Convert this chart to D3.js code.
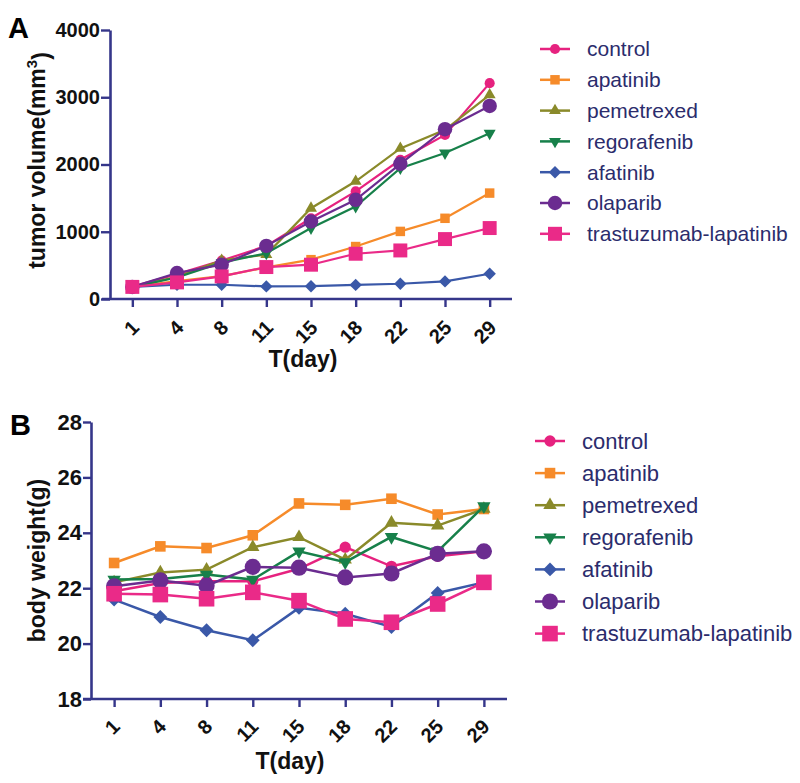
<!DOCTYPE html>
<html><head><meta charset="utf-8">
<script src="https://cdn.jsdelivr.net/npm/d3@7"></script>
<style>
html,body{margin:0;padding:0;background:#fff;}
svg{display:block;font-family:"Liberation Sans",Arial,Helvetica,sans-serif;}
</style></head>
<body>
<svg id="chart" width="800" height="783"></svg>
<script>
const days = ["1","4","8","11","15","18","22","25","29"];
const seriesNames = ["control","apatinib","pemetrexed","regorafenib","afatinib","olaparib","trastuzumab-lapatinib"];
const seriesColors = ["#e6227f","#f68b2a","#8a8a2a","#17804a","#3a58a8","#6b2c90","#ea2a88"];
const seriesSymbols = ["circle","square","triangle","triangleDown","diamond","bigCircle","bigSquare"];

const volControl     = [185, 370, 570, 790, 1200, 1600, 2070, 2440, 3210];
const volApatinib    = [180, 265, 340, 470, 585, 780, 1005, 1200, 1575];
const volPemetrexed  = [180, 330, 575, 660, 1350, 1750, 2240, 2515, 3035];
const volRegorafenib = [180, 320, 540, 680, 1055, 1375, 1945, 2170, 2465];
const volAfatinib    = [180, 212, 212, 187, 190, 210, 227, 262, 376];
const volOlaparib    = [180, 386, 510, 790, 1153, 1475, 2010, 2525, 2870];
const volTrastuzumab = [180, 247, 336, 475, 510, 673, 722, 891, 1055];

const wControl     = [21.89, 22.19, 22.25, 22.25, 22.70, 23.48, 22.79, 23.15, 23.33];
const wApatinib    = [22.91, 23.51, 23.45, 23.91, 25.06, 25.01, 25.23, 24.66, 24.86];
const wPemetrexed  = [22.21, 22.57, 22.67, 23.48, 23.84, 23.03, 24.36, 24.26, 24.86];
const wRegorafenib = [22.31, 22.33, 22.49, 22.31, 23.33, 22.94, 23.85, 23.33, 24.96];
const wAfatinib    = [21.59, 20.96, 20.48, 20.12, 21.29, 21.08, 20.60, 21.83, 22.21];
const wOlaparib    = [22.07, 22.28, 22.09, 22.77, 22.74, 22.39, 22.53, 23.24, 23.33];
const wTrastuzumab = [21.80, 21.77, 21.62, 21.85, 21.55, 20.89, 20.77, 21.43, 22.21];

const volTicks = [0, 1000, 2000, 3000, 4000];
const wTicks = [18, 20, 22, 24, 26, 28];

const volSeries = [volControl, volApatinib, volPemetrexed, volRegorafenib, volAfatinib, volOlaparib, volTrastuzumab];
const wSeries = [wControl, wApatinib, wPemetrexed, wRegorafenib, wAfatinib, wOlaparib, wTrastuzumab];

const AXIS = "#35368a";
const LEG_TEXT = "#2b2c6c";
const svg = d3.select("#chart");

function symbolPath(type, s) {
  switch (type) {
    case "circle": return d3.symbol(d3.symbolCircle, 80 * s)();
    case "bigCircle": return d3.symbol(d3.symbolCircle, 165 * s)();
    case "square": return d3.symbol(d3.symbolSquare, 90 * s)();
    case "bigSquare": return d3.symbol(d3.symbolSquare, 195 * s)();
    case "triangle": return d3.symbol(d3.symbolTriangle, 62 * s)();
    case "triangleDown": return d3.symbol(d3.symbolTriangle, 62 * s)();
    case "diamond": {
      const r = 6.2 * Math.sqrt(s);
      return `M0,${-r}L${r},0L0,${r}L${-r},0Z`;
    }
  }
}
function symbolTransform(type, x, y) {
  return type === "triangleDown" ? `translate(${x},${y}) rotate(180)` : `translate(${x},${y})`;
}

function panel(opt) {
  const g = svg.append("g");
  const x = d3.scalePoint().domain(days).range([opt.x0, opt.x1]).padding(0.5);
  const y = d3.scaleLinear().domain(opt.domain).range([opt.y1, opt.y0]);

  const xAxis = d3.axisBottom(x).tickSizeInner(8).tickSizeOuter(0).tickFormat("");
  const xg = g.append("g").attr("transform", `translate(0,${opt.y1})`).call(xAxis);
  const yAxis = d3.axisLeft(y).tickValues(opt.ticks).tickFormat(d3.format("d"))
    .tickSizeInner(opt.yTick).tickSizeOuter(0).tickPadding(1);
  const yg = g.append("g").attr("transform", `translate(${opt.x0},0)`).call(yAxis);
  [xg, yg].forEach(a => {
    a.selectAll("path.domain").attr("stroke", AXIS).attr("stroke-width", 2.6);
    a.selectAll(".tick line").attr("stroke", AXIS).attr("stroke-width", 2.4);
  });
  xg.select("path.domain").attr("d", `M${opt.x0 - 8},0H${opt.x1}`);
  yg.selectAll(".tick text").attr("font-size", opt.yFont).attr("font-weight", "bold").attr("fill", "#111")
    .attr("font-family", "'Liberation Sans',Arial,sans-serif");

  g.append("g").selectAll("text").data(days).join("text")
    .attr("transform", d => `translate(${x(d) + opt.xlDx},${opt.y1 + opt.xlDy}) rotate(-45)`)
    .attr("text-anchor", "end").attr("dy", "0.35em")
    .attr("font-size", 20).attr("font-weight", "bold").attr("fill", "#111")
    .text(d => d);

  const line = d3.line().x((d, i) => x(days[i])).y(d => y(d));
  opt.series.forEach((vals, k) => {
    const sg = g.append("g");
    sg.append("path").attr("d", line(vals)).attr("fill", "none")
      .attr("stroke", seriesColors[k]).attr("stroke-width", opt.lw);
    sg.selectAll("path.m").data(vals).join("path").attr("class", "m")
      .attr("d", symbolPath(seriesSymbols[k], opt.ms))
      .attr("transform", (d, i) => symbolTransform(seriesSymbols[k], x(days[i]), y(d)))
      .attr("fill", seriesColors[k]);
  });

  const yt = g.append("text")
    .attr("transform", `translate(${opt.ytX},${(opt.y0 + opt.y1) / 2 + opt.ytDy}) rotate(-90)`)
    .attr("text-anchor", "middle").attr("font-size", 23).attr("font-weight", "bold").attr("fill", "#111");
  yt.append("tspan").text(opt.yTitle);
  if (opt.sup) yt.append("tspan").attr("dy", "-0.55em").attr("font-size", 15).text(opt.sup);
  if (opt.sup) yt.append("tspan").attr("dy", "0.55em").text(")");

  g.append("text").attr("x", (opt.x0 + opt.x1) / 2 + opt.xtDx).attr("y", opt.xtY)
    .attr("text-anchor", "middle").attr("font-size", 23).attr("font-weight", "bold").attr("fill", "#111")
    .text("T(day)");

  g.append("text").attr("x", opt.letterX).attr("y", opt.letterY)
    .attr("font-size", 29).attr("font-weight", "bold").attr("fill", "#000").text(opt.letter);

  const lg = g.append("g");
  seriesNames.forEach((name, k) => {
    const ly = opt.legY + k * opt.legStep;
    lg.append("line").attr("x1", opt.legX).attr("x2", opt.legX + 30).attr("y1", ly).attr("y2", ly)
      .attr("stroke", seriesColors[k]).attr("stroke-width", 2.5);
    lg.append("path").attr("d", symbolPath(seriesSymbols[k], opt.ms))
      .attr("transform", symbolTransform(seriesSymbols[k], opt.legX + 15, ly))
      .attr("fill", seriesColors[k]);
    lg.append("text").attr("x", opt.legTextX).attr("y", ly).attr("dy", "0.35em")
      .attr("font-size", opt.legFont).attr("fill", LEG_TEXT).text(name);
  });
}

panel({
  x0: 110, x1: 512, y0: 30, y1: 299, domain: [0, 4000], ticks: volTicks,
  series: volSeries, yTick: 9, yFont: 20, lw: 2.2, ms: 1,
  xlDx: 3, xlDy: 25,
  yTitle: "tumor volume(mm", sup: "3", ytX: 45, ytDy: -4,
  xtDx: -8, xtY: 367,
  letter: "A", letterX: 8, letterY: 38,
  legX: 540, legY: 49, legStep: 30.8, legTextX: 587, legFont: 21
});

panel({
  x0: 91, x1: 507, y0: 422, y1: 699, domain: [18, 28], ticks: wTicks,
  series: wSeries, yTick: 8, yFont: 22, lw: 2.5, ms: 1.25,
  xlDx: 2, xlDy: 24,
  yTitle: "body weight(g)", sup: null, ytX: 45, ytDy: 0,
  xtDx: -9, xtY: 769,
  letter: "B", letterX: 10, letterY: 435,
  legX: 535, legY: 441, legStep: 32.1, legTextX: 582, legFont: 22
});
</script>
</body></html>
